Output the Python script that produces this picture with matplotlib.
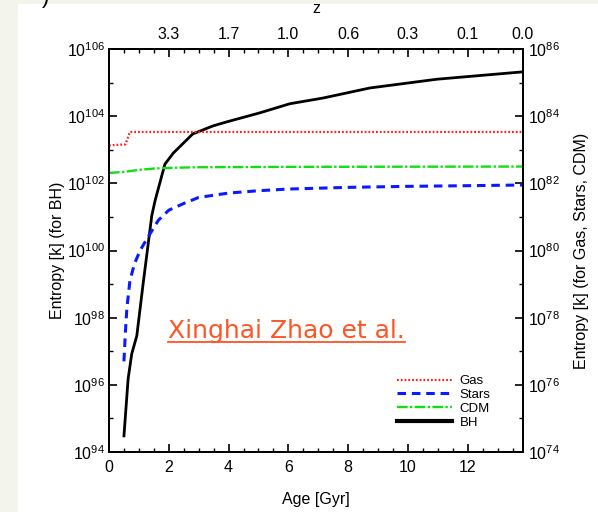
import matplotlib
matplotlib.use("Agg")
import matplotlib.pyplot as plt
from matplotlib.ticker import FixedLocator, NullFormatter, LogFormatterSciNotation
from matplotlib.patches import Rectangle
from matplotlib.lines import Line2D
import numpy as np

plt.rcParams['font.family'] = ['Liberation Sans', 'DejaVu Sans']
plt.rcParams['mathtext.default'] = 'regular'

# Data (age in Gyr, log10 entropy in k)
gas_age = [0.0, 0.55, 0.7, 13.85]
gas_log = [83.13, 83.16, 83.53, 83.53]

cdm_age = [0.0, 0.5, 1.0, 1.5, 2.0, 3.0, 6.0, 13.85]
cdm_log = [82.31, 82.34, 82.40, 82.44, 82.46, 82.48, 82.49, 82.50]

stars_age = [0.5, 0.55, 0.6, 0.7, 0.85, 1.04, 1.27, 1.65, 2.0, 2.5, 3.0, 4.0, 5.0, 6.0, 8.0, 10.0, 12.0, 13.85]
stars_log = [76.7, 77.6, 78.3, 79.1, 79.6, 80.0, 80.35, 80.9, 81.2, 81.4, 81.58, 81.71, 81.78, 81.83, 81.88, 81.91, 81.93, 81.95]

bh_age = [0.5, 0.64, 0.76, 0.93, 1.14, 1.43, 1.54, 1.87, 2.15, 2.8, 3.48, 3.94, 5.05, 6.05, 7.16, 8.73, 10.97, 13.85]
bh_log = [94.48, 96.18, 96.92, 97.46, 99.0, 101.03, 101.48, 102.57, 102.9, 103.47, 103.71, 103.83, 104.1, 104.37, 104.54, 104.84, 105.1, 105.32]

z_tick_age = [2, 4, 6, 8, 10, 12, 13.85]
z_tick_labels = ['3.3', '1.7', '1.0', '0.6', '0.3', '0.1', '0.0']

fig = plt.figure(figsize=(5.98, 5.12), dpi=100)
fig.patch.set_facecolor('#f3f5ec')
fig.add_artist(Rectangle((18 / 598, 0), 1, 1 - 4 / 512, transform=fig.transFigure,
                         facecolor='white', edgecolor='none', zorder=-10))
fig.text(0.07, 1.005, ')', fontsize=16, color='black', va='center')

ax = fig.add_axes([109 / 598, 1 - 452 / 512, 414 / 598, 403 / 512])
ax2 = ax.twinx()
ax3 = ax.twiny()

ax.plot(bh_age, 10.0 ** np.array(bh_log), color='black', lw=2.0, zorder=5)
l_gas, = ax2.plot(gas_age, 10.0 ** np.array(gas_log), color='#ff2020', lw=1.6, ls=(0, (0.8, 0.9)))
l_stars, = ax2.plot(stars_age, 10.0 ** np.array(stars_log), color='#0a1aff', lw=2.2, ls=(0, (2.8, 1.9)))
l_cdm, = ax2.plot(cdm_age, 10.0 ** np.array(cdm_log), color='#10e010', lw=1.7, ls=(0, (4.5, 1.0, 1.0, 1.0)))

ax.set_yscale('log')
ax2.set_yscale('log')
ax.set_xlim(0, 13.85)
ax.set_ylim(1e94, 1e106)
ax2.set_ylim(1e74, 1e86)

ax.yaxis.set_major_locator(FixedLocator(10.0 ** np.arange(94, 107, 2)))
ax.yaxis.set_minor_locator(FixedLocator(10.0 ** np.arange(95, 106, 2)))
ax.yaxis.set_major_formatter(LogFormatterSciNotation())
ax.yaxis.set_minor_formatter(NullFormatter())
ax2.yaxis.set_major_locator(FixedLocator(10.0 ** np.arange(74, 87, 2)))
ax2.yaxis.set_minor_locator(FixedLocator(10.0 ** np.arange(75, 86, 2)))
ax2.yaxis.set_major_formatter(LogFormatterSciNotation())
ax2.yaxis.set_minor_formatter(NullFormatter())

ax.set_xticks(np.arange(0, 13, 2))
ax.set_xticks(np.arange(0, 13.9, 0.5), minor=True)

ax3.set_xlim(ax.get_xlim())
ax3.set_xticks(z_tick_age)
ax3.set_xticklabels(z_tick_labels)
ax3.set_xticks(np.arange(0.5, 13.9, 0.5), minor=True)

for a in (ax, ax2, ax3):
    a.tick_params(which='major', direction='in', length=6, width=1.2, labelsize=11.5)
    a.tick_params(which='minor', direction='in', length=3, width=1.0)
    for s in a.spines.values():
        s.set_linewidth(1.3)
ax.tick_params(axis='x', pad=6)
ax3.tick_params(axis='x', pad=5)
ax.tick_params(axis='y', pad=3)
ax2.tick_params(axis='y', pad=3.5)

ax.set_xlabel('Age [Gyr]', fontsize=11.5, labelpad=12)
ax3.set_xlabel('z', fontsize=11.5, labelpad=10)
ax.set_ylabel('Entropy [k] (for BH)', fontsize=11.5, labelpad=1.5)
ax2.set_ylabel('Entropy [k] (for Gas, Stars, CDM)', fontsize=11.5, labelpad=10)

leg = ax.legend([l_gas, l_stars, l_cdm, Line2D([], [], color='black', lw=3)],
                ['Gas', 'Stars', 'CDM', 'BH'], loc='upper left',
                bbox_to_anchor=((397 - 109) / 414, (452 - 375) / 403),
                frameon=False, fontsize=9.5, handlelength=4.2, handletextpad=0.55,
                labelspacing=0.12, borderpad=0, borderaxespad=0)

txt = ax.text(0.143, 0.3, 'Xinghai Zhao et al.', transform=ax.transAxes,
              fontsize=18, family=['DejaVu Sans'], color='#ff5424',
              ha='left', va='center', zorder=6)
fig.canvas.draw()
bb = txt.get_window_extent().transformed(fig.transFigure.inverted())
fig.add_artist(Line2D([bb.x0, bb.x1], [bb.y0 + 0.002, bb.y0 + 0.002], transform=fig.transFigure,
                      color='#ff5424', lw=1.3))

fig.savefig('out.png', dpi=100)
